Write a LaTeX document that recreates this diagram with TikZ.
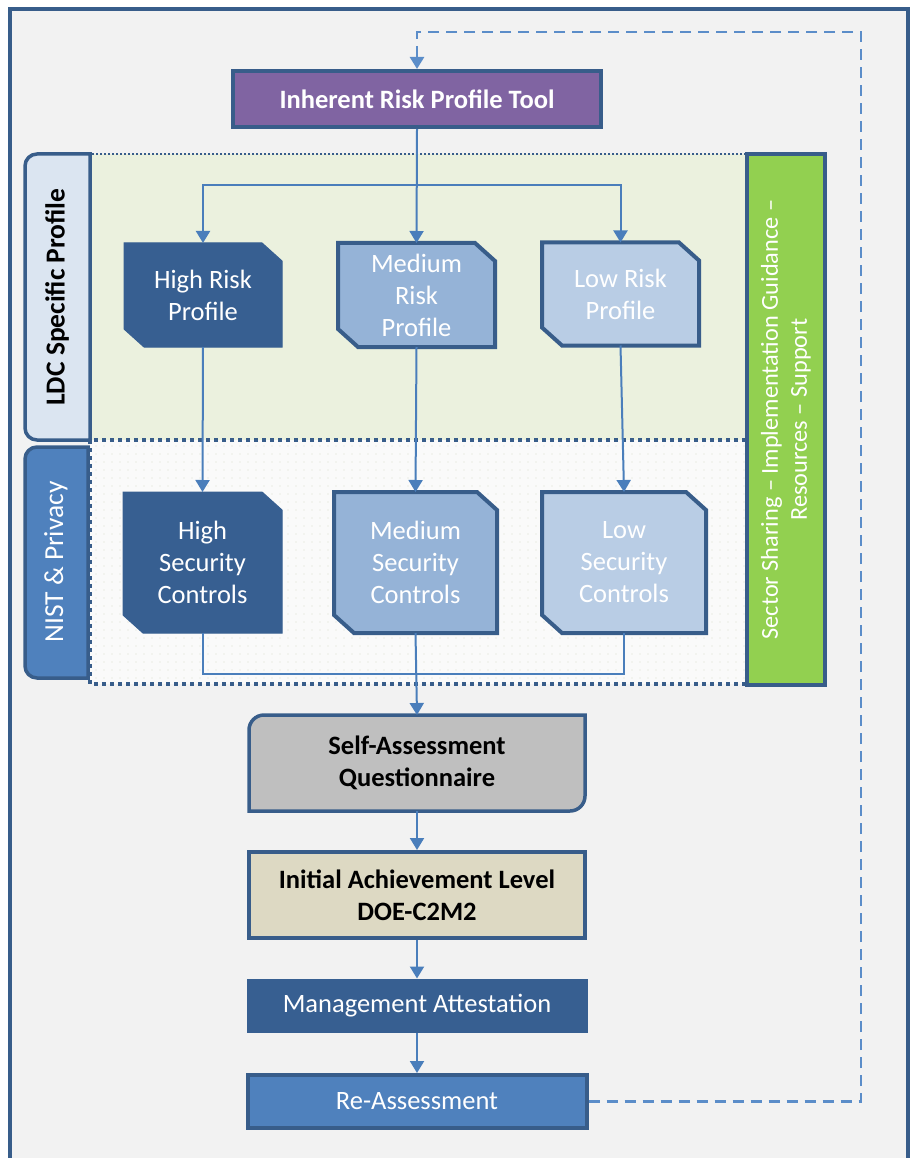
\documentclass[tikz,border=0pt]{standalone}
\usepackage{fontspec}
\setmainfont{Carlito}
\usetikzlibrary{arrows.meta,patterns.meta}
\definecolor{frameblue}{HTML}{385D8A}
\definecolor{connblue}{HTML}{4A7EBB}
\definecolor{loopblue}{HTML}{5B8DC9}
\definecolor{bggray}{HTML}{F2F2F2}
\definecolor{purplefill}{HTML}{8064A2}
\definecolor{darkfill}{HTML}{375F91}
\definecolor{medfill}{HTML}{95B3D7}
\definecolor{lowfill}{HTML}{B9CDE5}
\definecolor{ldcbg}{HTML}{EBF1DE}
\definecolor{ldctab}{HTML}{DBE5F1}
\definecolor{nisttab}{HTML}{4F81BD}
\definecolor{greenbar}{HTML}{92D050}
\definecolor{grayfill}{HTML}{BFBFBF}
\definecolor{tanfill}{HTML}{DDD9C3}
\definecolor{refill}{HTML}{4F81BD}
\definecolor{dotcol}{HTML}{D9DCCB}
\pgfdeclarelayer{bg}
\pgfdeclarelayer{shapes}
\pgfsetlayers{bg,shapes,main}
\newcommand\boxfont{\fontsize{26.5}{32}\selectfont}
\newcommand\tabfont{\fontsize{27.5}{32}\selectfont}
\newcommand\barfont{\fontsize{24.3}{29}\selectfont}
\newcommand\snipshape[4]{%
  \draw[line width=#4, draw=#3, fill=#2, line join=miter]
    (#1.north west) -- ([xshift=-20pt]#1.north east) -- ([yshift=-18pt]#1.north east)
    -- (#1.south east) -- ([xshift=20pt]#1.south west) -- ([yshift=18pt]#1.south west) -- cycle;}
\tikzset{
  txt/.style={inner sep=0pt, outer sep=0pt, align=center, font=\boxfont, text=white},
  btxt/.style={inner sep=0pt, outer sep=0pt, align=center, font=\boxfont\bfseries, text=black},
  framed/.style={draw=frameblue, line width=4pt},
  conn/.style={draw=connblue, line width=2pt},
  arr/.style={conn, -{Triangle[length=12pt,width=14pt]}},
  loopline/.style={draw=loopblue, line width=2.5pt, dash pattern=on 11pt off 7pt},
  thindots/.style={draw=frameblue, line width=1.6pt, dash pattern=on 1.6pt off 2.4pt},
  thickdots/.style={draw=frameblue, line width=4pt, dash pattern=on 4pt off 4pt},
  tabline/.style={draw=frameblue, line width=3.5pt}
}
\begin{document}
\begin{tikzpicture}[x=1pt,y=-1pt]
\useasboundingbox (0,0) rectangle (914,1158);
\begin{pgfonlayer}{bg}
  \fill[white] (0,0) rectangle (914,1158);
  \draw[framed, fill=bggray] (10,9) rectangle (908,1185);
  % LDC region
  \fill[ldcbg] (90,154) rectangle (746,440);
  \draw[thindots] (746,154) -- (90,154) -- (90,440);
  % NIST region
  \fill[white!60!bggray] (90,440) rectangle (746,684);
  \fill[pattern={Dots[distance=8pt,radius=0.7pt]}, pattern color=dotcol] (90,440) rectangle (746,684);
  \draw[thickdots] (746,440) -- (90,440) -- (90,684) -- (746,684);
  % side tabs
  \draw[tabline, fill=ldctab] (90,154) -- (37,154) arc[start angle=90,end angle=180,radius=12pt]
     -- (25,428) arc[start angle=180,end angle=270,radius=12pt] -- (90,440) -- cycle;
  \draw[tabline, fill=nisttab] (88,447) -- (37,447) arc[start angle=90,end angle=180,radius=12pt]
     -- (25,666) arc[start angle=180,end angle=270,radius=12pt] -- (88,678) -- cycle;
\end{pgfonlayer}

% tab labels
\node[inner sep=0pt, rotate=90, font=\tabfont\bfseries, text=black] (ldctxt) at (57,297) {LDC Specific Profile};
\node[inner sep=0pt, rotate=90, font=\tabfont, text=white] (nisttxt) at (56,562) {NIST \& Privacy};

% green bar
\node[framed, fill=greenbar, rotate=90, minimum width=531pt, minimum height=78pt, inner sep=0pt,
      align=center, font=\barfont, text=white] (ssb) at (786,419.5)
      {Sector Sharing – Implementation Guidance –\\Resources – Support};

% top tool
\node[framed, fill=purplefill, minimum width=368pt, minimum height=56pt, inner sep=0pt,
      font=\boxfont\bfseries, text=white] (irp) at (417,99) {Inherent Risk Profile Tool};

% risk profiles
\node[txt, minimum width=158pt, minimum height=104pt] (hrp) at (203,295) {High Risk\\Profile};
\node[txt, minimum width=157pt, minimum height=104pt] (mrp) at (416.5,295) {Medium\\Risk\\Profile};
\node[txt, minimum width=157pt, minimum height=103pt] (lrp) at (620.5,294) {Low Risk\\Profile};

% security controls
\node[txt, minimum width=159pt, minimum height=141pt] (hsc) at (202.5,562.5) {High\\Security\\Controls};
\node[txt, minimum width=163pt, minimum height=141pt] (msc) at (415.5,562.5) {Medium\\Security\\Controls};
\node[txt, minimum width=164pt, minimum height=141pt] (lsc) at (624,562.5) {Low\\Security\\Controls};

% lower chain
\node[btxt, minimum width=336pt, minimum height=96pt] (sa) at (417,763) {Self-Assessment\\Questionnaire};
\node[framed, fill=tanfill, btxt, minimum width=336pt, minimum height=86pt, outer sep=2pt] (ial) at (417,895)
      {Initial Achievement Level\\DOE-C2M2};
\node[draw=darkfill, line width=1pt, fill=darkfill, txt, minimum width=340pt, minimum height=53pt, outer sep=0.5pt] (ma) at (417,1005.5)
      {Management Attestation};
\node[framed, fill=refill, txt, minimum width=339pt, minimum height=53pt, outer sep=2pt] (ra) at (417,1101.5)
      {Re-Assessment};

\begin{pgfonlayer}{shapes}
  \snipshape{hrp}{darkfill}{darkfill}{1pt}
  \snipshape{mrp}{medfill}{frameblue}{4pt}
  \snipshape{lrp}{lowfill}{frameblue}{4pt}
  \snipshape{hsc}{darkfill}{darkfill}{1pt}
  \snipshape{msc}{medfill}{frameblue}{4pt}
  \snipshape{lsc}{lowfill}{frameblue}{4pt}
  \draw[draw=frameblue, line width=3.5pt, fill=grayfill]
    ([yshift=-15pt]sa.north west) arc[start angle=180,end angle=90,radius=15pt]
    -- (sa.north east) -- ([yshift=15pt]sa.south east) arc[start angle=0,end angle=-90,radius=15pt]
    -- (sa.south west) -- cycle;
\end{pgfonlayer}

% connectors
\coordinate (busA) at (417,185);
\coordinate (busB) at (417,674);
\draw[arr] (irp.south) -- (mrp.north);
\draw[arr] (busA) -| (hrp.north);
\draw[arr] (busA) -| (lrp.north);
\draw[arr] (hrp.south) -- (hsc.north);
\draw[arr] (mrp.south) -- (msc.north);
\draw[arr] (lrp.south) -- (lsc.north);
\draw[conn] (hsc.south) |- (busB) -| (lsc.south);
\draw[arr] (msc.south) -- (sa.north);
\draw[arr] (sa.south) -- (ial.north);
\draw[arr] (ial.south) -- (ma.north);
\draw[arr] (ma.south) -- (ra.north);

% feedback loop
\coordinate (loopTR) at (861,32);
\draw[loopline, -{Triangle[length=12pt,width=14pt]}] (ra.east) -| (loopTR) -| (irp.north);
\end{tikzpicture}
\end{document}
